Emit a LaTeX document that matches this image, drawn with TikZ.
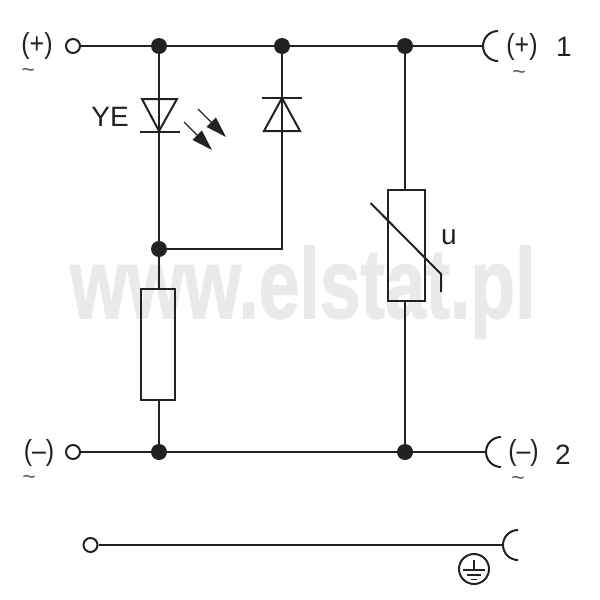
\documentclass[tikz,border=0pt]{standalone}
\usepackage{fontspec}
\setmainfont{Liberation Sans}
\usetikzlibrary{arrows.meta}
\definecolor{ink}{HTML}{222222}
\definecolor{wm}{HTML}{EAEAEA}
\newcommand{\signtext}[1]{\scalebox{0.86}[1]{#1}}
\tikzset{
  wire/.style={draw=ink,line width=2pt},
  fine/.style={draw=ink,line width=1.7pt},
  term/.style={circle,draw=ink,fill=white,line width=2pt,minimum size=14pt,inner sep=0pt},
  junction/.style={circle,fill=ink,draw=none,minimum size=16pt,inner sep=0pt},
  bodybox/.style={draw=ink,fill=none,line width=2pt,inner sep=0pt},
  lab/.style={text=ink,inner sep=0pt,font=\fontsize{28}{28}\selectfont},
  sign/.style={text=ink,inner sep=0pt,font=\fontsize{29}{29}\selectfont},
  tildemark/.style={text=ink!75,inner sep=0pt,font=\fontsize{23}{23}\selectfont},
  ray/.style={draw=ink,line width=1.3pt,-{Triangle[length=21pt,width=13pt]}},
  wmark/.style={inner sep=0pt,anchor=base west,text=wm,font=\bfseries\addfontfeature{FakeBold=1.5}}
}
\begin{document}
\begin{tikzpicture}[x=1pt,y=-1pt]
\useasboundingbox (0,0) rectangle (600,600);
\fill[white] (0,0) rectangle (600,600);
% watermark
\node[wmark] (wm) at (70,318) {\resizebox{465pt}{72pt}{www.elstat.pl}};
% terminals and junctions
\node[term] (tp) at (73,46) {};
\node[term] (tm) at (73,452) {};
\node[term] (te) at (90.5,545) {};
\node[junction] (j1) at (159,46) {};
\node[junction] (j2) at (282,46) {};
\node[junction] (j3) at (405,46) {};
\node[junction] (j4) at (159,249) {};
\node[junction] (j5) at (159,452) {};
\node[junction] (j6) at (405,452) {};
\coordinate (cp) at (483,46);
\coordinate (cm) at (486,452);
\coordinate (ce) at (503,545);
\coordinate (bend) at (282,249);
% boxes
\node[bodybox,minimum width=34pt,minimum height=111pt] (r) at (158,344.5) {};
\node[bodybox,minimum width=37pt,minimum height=111pt] (v) at (406,245.5) {};
% wires
\draw[wire] (tp) -- (j1) -- (j2) -- (j3) -- (cp);
\draw[wire] (tm) -- (j5) -- (j6) -- (cm);
\draw[wire] (te) -- (ce);
\draw[wire] (j1) -- (j4);
\draw[wire] (j4) -- (j4|-r.north);
\draw[wire] (j5|-r.south) -- (j5);
\draw[wire] (j2) -- (bend) -- (j4);
\draw[wire] (j3) -- (j3|-v.north);
\draw[wire] (j6|-v.south) -- (j6);
% cups
\draw[wire] (cp) ++(15,-15) arc[start angle=90,end angle=270,radius=15pt];
\draw[wire] (cm) ++(15,-15) arc[start angle=90,end angle=270,radius=15pt];
\draw[wire] (ce) ++(15,-15) arc[start angle=90,end angle=270,radius=15pt];
% LED
\draw[wire,line join=miter] (142,99) -- (177,99) -- (159,131) -- cycle;
\draw[wire] (140,132) -- (180,132);
\coordinate (r1a) at (198,109);
\coordinate (r1b) at (226,137);
\coordinate (r2a) at (184,122);
\coordinate (r2b) at (212,150);
\draw[ray] (r1a) -- (r1b);
\draw[ray] (r2a) -- (r2b);
% Zener
\draw[wire,line join=miter] (264,131) -- (300,131) -- (282,98) -- cycle;
\draw[wire] (262,98) -- (302,98);
% varistor slash
\coordinate (s1) at (370.5,203);
\coordinate (s2) at (441,274);
\coordinate (s3) at (441,292);
\draw[wire] (s1) -- (s2) -- (s3);
% earth symbol
\node[circle,draw=ink,line width=2pt,minimum size=30pt,inner sep=0pt] (pe) at (474,569) {};
\draw[fine] (474,560) -- (474,570);
\draw[fine] (463,570) -- (485,570);
\draw[fine] (467,575) -- (481,575);
\draw[fine] (471,579.5) -- (477,579.5);
% labels
\node[sign] (lp) at (37,46) {\signtext{(+)}};
\node[tildemark] (ltp) at (28,73) {\textasciitilde};
\node[sign] (lm) at (39,453) {\signtext{(–)}};
\node[tildemark] (ltm) at (29,480) {\textasciitilde};
\node[sign] (rp) at (522,47) {\signtext{(+)}};
\node[tildemark] (rtp) at (519,75) {\textasciitilde};
\node[sign] (rm) at (523.5,453) {\signtext{(–)}};
\node[tildemark] (rtm) at (518,481) {\textasciitilde};
\node[lab] (n1) at (564,47) {1};
\node[lab] (n2) at (563,455) {2};
\node[lab] (ye) at (110,117) {YE};
\node[lab] (u) at (449,237) {u};
\end{tikzpicture}
\end{document}
